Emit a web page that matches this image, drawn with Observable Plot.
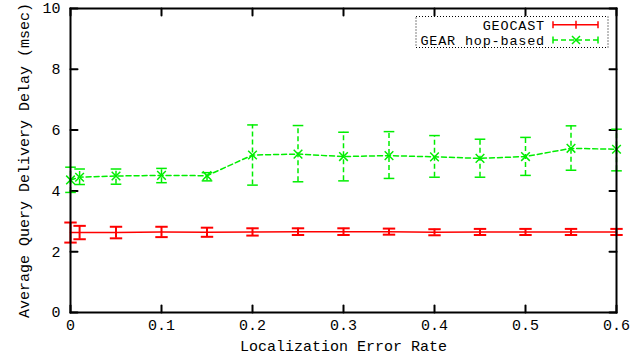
<!DOCTYPE html>
<html><head><meta charset="utf-8">
<script src="https://cdn.jsdelivr.net/npm/d3@7"></script>
<script src="https://cdn.jsdelivr.net/npm/@observablehq/plot@0.6"></script>
<style>
body{margin:0;background:#fff;}
#wrap{position:relative;width:634px;height:363px;}
</style></head><body><div id="wrap"></div>
<script>
const xs = [0, 0.01, 0.05, 0.1, 0.15, 0.2, 0.25, 0.3, 0.35, 0.4, 0.45, 0.5, 0.55, 0.6];
const geocast = [2.63, 2.63, 2.63, 2.65, 2.64, 2.65, 2.66, 2.66, 2.66, 2.64, 2.65, 2.65, 2.65, 2.65];
const geocastErr = [0.33, 0.22, 0.19, 0.17, 0.15, 0.12, 0.11, 0.11, 0.1, 0.1, 0.1, 0.1, 0.1, 0.1];
const gear = [4.36, 4.45, 4.49, 4.51, 4.5, 5.18, 5.21, 5.13, 5.16, 5.12, 5.07, 5.13, 5.40, 5.37];
const gearLo = [3.95, 4.21, 4.22, 4.27, 4.33, 4.19, 4.30, 4.33, 4.41, 4.45, 4.45, 4.51, 4.68, 4.66];
const gearHi = [4.78, 4.72, 4.72, 4.74, 4.60, 6.17, 6.15, 5.93, 5.95, 5.82, 5.70, 5.76, 6.14, 6.03];
const xTicks = [0, 0.1, 0.2, 0.3, 0.4, 0.5, 0.6];
const yTicks = [0, 2, 4, 6, 8, 10];
const seriesNames = ["GEOCAST", "GEAR hop-based"];
const xLabel = "Localization Error Rate";
const yLabel = "Average Query Delivery Delay (msec)";

const red = "#ff0000", green = "#00ee00";
const geoData = xs.map((x, i) => ({x, y: geocast[i], lo: geocast[i] - geocastErr[i], hi: geocast[i] + geocastErr[i]}));
const gearData = xs.map((x, i) => ({x, y: gear[i], lo: gearLo[i], hi: gearHi[i]}));

const cap = {draw(ctx, size) { const w = Math.sqrt(size); ctx.moveTo(-w, 0); ctx.lineTo(w, 0); }};
const tickShape = {draw(ctx, l) { ctx.moveTo(0, 0); ctx.lineTo(0, -l); }};
const font = "'Liberation Mono', 'DejaVu Sans Mono', monospace";

const chart = Plot.plot({
  width: 634, height: 363,
  marginLeft: 70, marginRight: 18, marginTop: 8, marginBottom: 51,
  style: {fontFamily: font, fontSize: "15px", color: "#000", background: "#fff"},
  x: {domain: [0, 0.6]},
  y: {domain: [0, 10]},
  marks: [
    Plot.axisX(xTicks, {tickSize: 0, tickPadding: 7, tickFormat: d => d === 0 ? "0" : String(d), label: xLabel, labelAnchor: "center", labelArrow: false, labelOffset: 38, fill: "#000"}),
    Plot.axisY(yTicks, {tickSize: 0, tickPadding: 10, label: yLabel, labelAnchor: "center", labelArrow: false, labelOffset: 52, fill: "#000"}),
    Plot.vector(xTicks, {x: d => d, frameAnchor: "bottom", rotate: 0, anchor: "start", length: 7, shape: tickShape, stroke: "#000", strokeWidth: 2}),
    Plot.vector(xTicks, {x: d => d, frameAnchor: "top", rotate: 180, anchor: "start", length: 7, shape: tickShape, stroke: "#000", strokeWidth: 2}),
    Plot.vector(yTicks, {y: d => d, frameAnchor: "left", rotate: 90, anchor: "start", length: 7, shape: tickShape, stroke: "#000", strokeWidth: 2}),
    Plot.vector(yTicks, {y: d => d, frameAnchor: "right", rotate: -90, anchor: "start", length: 7, shape: tickShape, stroke: "#000", strokeWidth: 2}),
    // GEOCAST
    Plot.line(geoData, {x: "x", y: "y", stroke: red, strokeWidth: 1.5}),
    Plot.ruleX(geoData, {x: "x", y1: "lo", y2: "hi", stroke: red, strokeWidth: 2}),
    Plot.dot(geoData, {x: "x", y: "lo", symbol: cap, r: 3.5, stroke: red, strokeWidth: 2}),
    Plot.dot(geoData, {x: "x", y: "hi", symbol: cap, r: 3.5, stroke: red, strokeWidth: 2}),
    // GEAR
    Plot.line(gearData, {x: "x", y: "y", stroke: green, strokeWidth: 1.5, strokeDasharray: "5,3"}),
    Plot.ruleX(gearData, {x: "x", y1: "lo", y2: "hi", stroke: green, strokeWidth: 1.5, strokeDasharray: "5,3"}),
    Plot.dot(gearData, {x: "x", y: "lo", symbol: cap, r: 3, stroke: green, strokeWidth: 1.5}),
    Plot.dot(gearData, {x: "x", y: "hi", symbol: cap, r: 3, stroke: green, strokeWidth: 1.5}),
    Plot.dot(gearData, {x: "x", y: "y", symbol: "times", r: 4, stroke: green, strokeWidth: 1.5}),
    Plot.frame({stroke: "#000", strokeWidth: 2})
  ]
});
document.getElementById("wrap").appendChild(chart);

// Legend
const svg = d3.select(chart);
const lg = svg.append("g").attr("font-family", font).attr("font-size", 13.5).attr("letter-spacing", "0.8px");
lg.append("rect").attr("x", 416).attr("y", 16.5).attr("width", 192).attr("height", 31)
  .attr("fill", "none").attr("stroke", "#000").attr("stroke-dasharray", "1,2");
const rows = [{name: seriesNames[0], c: red, y: 24.8, dash: null}, {name: seriesNames[1], c: green, y: 40, dash: "5,3"}];
rows.forEach((r, i) => {
  lg.append("text").attr("x", 545).attr("y", r.y).attr("dy", "0.35em").attr("text-anchor", "end").attr("fill", "#000").text(r.name);
  const g = lg.append("g").attr("stroke", r.c).attr("stroke-width", 1.5);
  g.append("line").attr("x1", 553).attr("x2", 598).attr("y1", r.y).attr("y2", r.y).attr("stroke-dasharray", r.dash);
  g.append("line").attr("x1", 553).attr("x2", 553).attr("y1", r.y - 3.5).attr("y2", r.y + 3.5);
  g.append("line").attr("x1", 598).attr("x2", 598).attr("y1", r.y - 3.5).attr("y2", r.y + 3.5);
  if (i === 0) {
    g.append("line").attr("x1", 576).attr("x2", 576).attr("y1", r.y - 4).attr("y2", r.y + 4);
  } else {
    g.append("path").attr("d", `M572,${r.y-4}L580,${r.y+4}M572,${r.y+4}L580,${r.y-4}`);
  }
});
</script></body></html>
